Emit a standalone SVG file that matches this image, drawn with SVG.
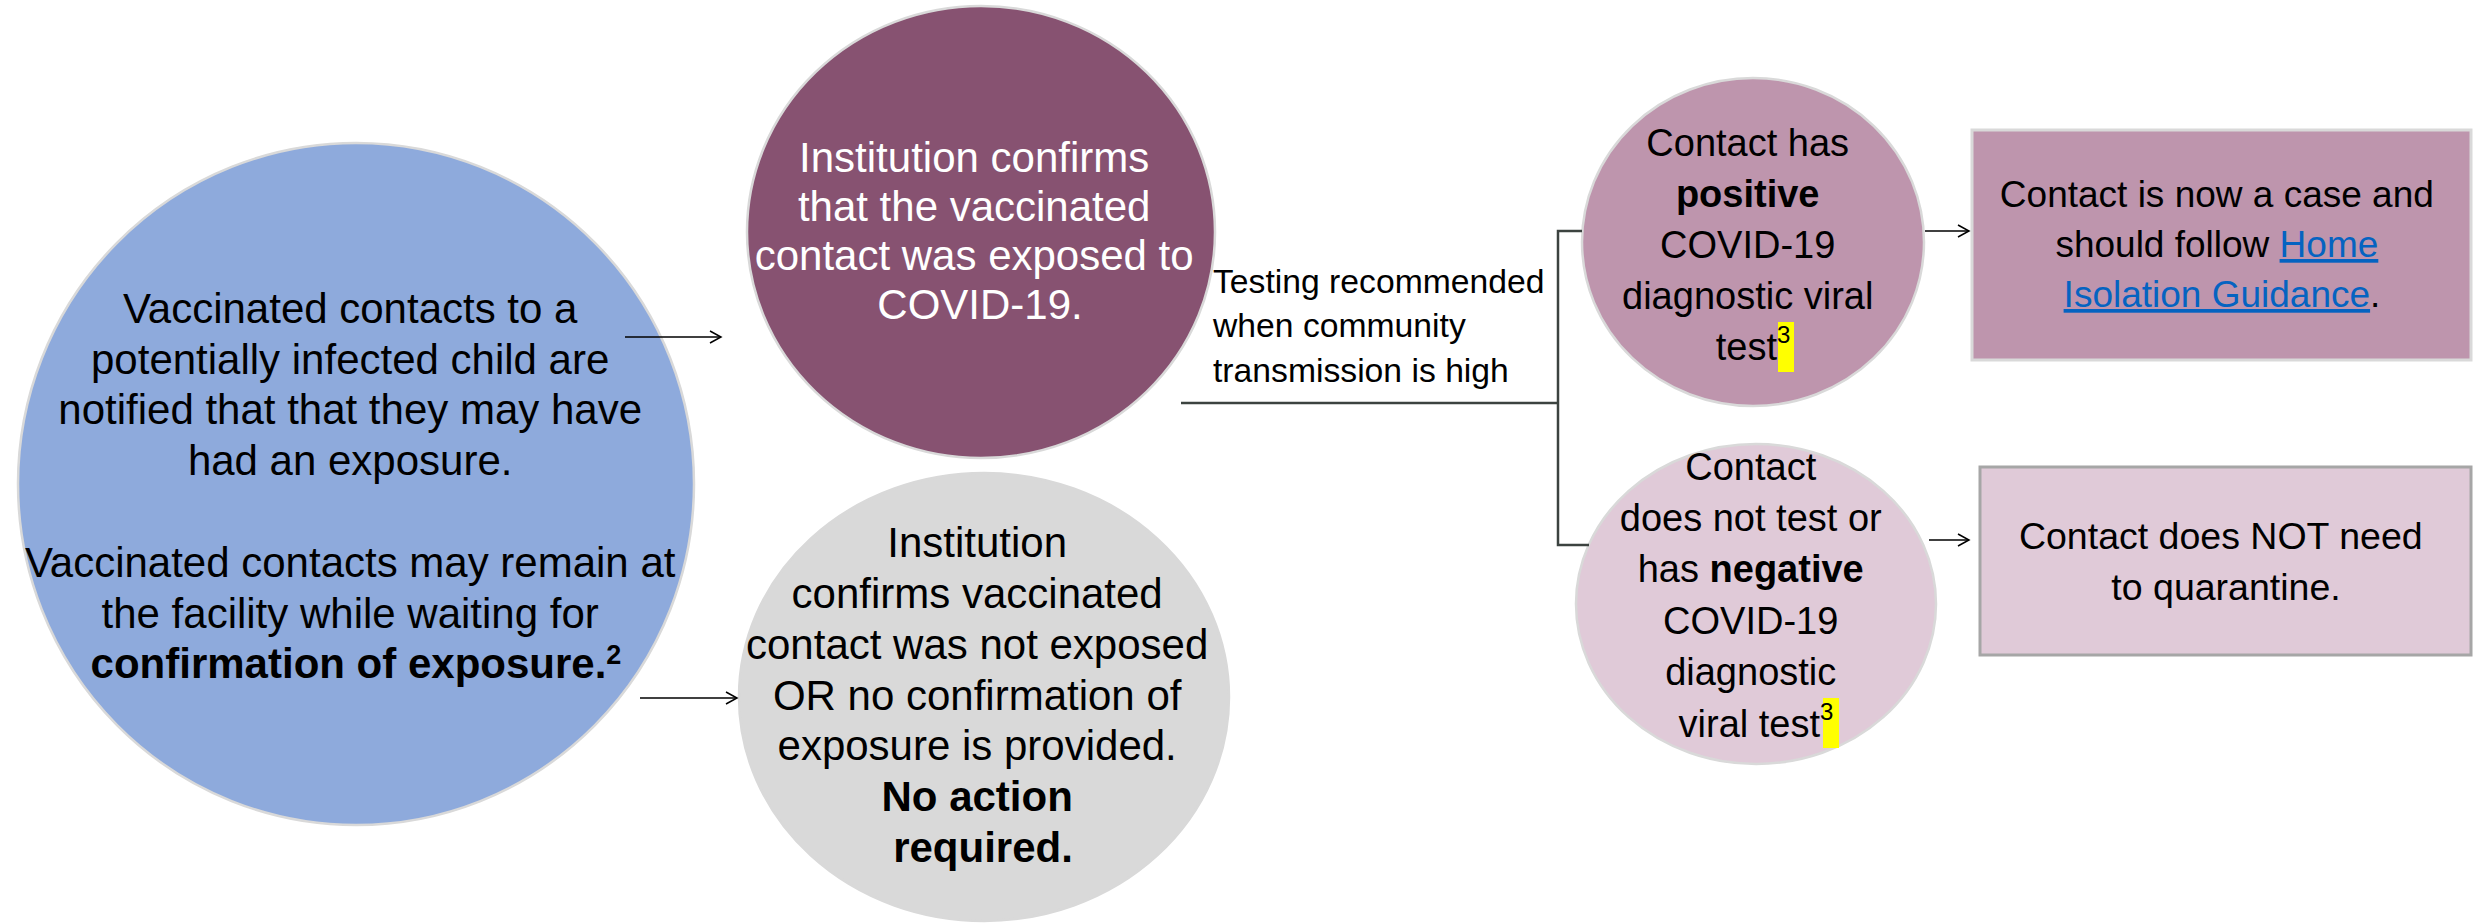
<svg xmlns="http://www.w3.org/2000/svg" width="2484" height="923" viewBox="0 0 2484 923">
<style>
text { font-family: "Liberation Sans", Arial, sans-serif; fill: #000; text-anchor: middle; }
.w { fill: #fff; }
.b { font-weight: bold; }
.node { stroke: #d9d9d9; stroke-width: 2.5; }
.arrow { stroke: #000; stroke-width: 1.5; fill: none; }
.brk { stroke: #3c4340; stroke-width: 2.5; fill: none; }
.link { fill: #0563C1; text-decoration: underline; }
.hl { fill: #ffff00; }
</style>
<defs>
<marker id="ah" markerUnits="userSpaceOnUse" markerWidth="14" markerHeight="16" refX="12" refY="7" orient="auto">
<path d="M1,1 L12,7 L1,13" fill="none" stroke="#000" stroke-width="1.5"/>
</marker>
</defs>
<rect width="2484" height="923" fill="#fff"/>

<g id="node-start">
<ellipse class="node" cx="356" cy="484" rx="338" ry="341" fill="#8eaadc"/>
<text font-size="42">
<tspan x="356" y="323">Vaccinated contacts to a</tspan>
<tspan x="356" y="374">potentially infected child are</tspan>
<tspan x="356" y="424">notified that that they may have</tspan>
<tspan x="356" y="475">had an exposure.</tspan>
<tspan x="356" y="577">Vaccinated contacts may remain at</tspan>
<tspan x="356" y="628">the facility while waiting for</tspan>
<tspan x="356" y="678" class="b">confirmation of exposure.<tspan font-size="27" dy="-14">2</tspan></tspan>
</text>
</g>

<g id="node-exposed">
<ellipse class="node" cx="981" cy="232" rx="234" ry="226" fill="#875271"/>
<text font-size="42" class="w">
<tspan class="w" x="980" y="172">Institution confirms</tspan>
<tspan class="w" x="980" y="221">that the vaccinated</tspan>
<tspan class="w" x="980" y="270">contact was exposed to</tspan>
<tspan class="w" x="980" y="319">COVID-19.</tspan>
</text>
</g>

<g id="node-not-exposed">
<ellipse class="node" cx="984" cy="697" rx="245" ry="224" fill="#d9d9d9"/>
<text font-size="42">
<tspan x="983" y="557">Institution</tspan>
<tspan x="983" y="608">confirms vaccinated</tspan>
<tspan x="983" y="659">contact was not exposed</tspan>
<tspan x="983" y="710">OR no confirmation of</tspan>
<tspan x="983" y="760">exposure is provided.</tspan>
<tspan x="983" y="811" class="b">No action</tspan>
<tspan x="983" y="862" class="b">required.</tspan>
</text>
</g>

<g id="label-testing">
<text font-size="33.7" style="text-anchor:start">
<tspan x="1213" y="293">Testing recommended</tspan>
<tspan x="1213" y="337">when community</tspan>
<tspan x="1213" y="382">transmission is high</tspan>
</text>
</g>

<g id="node-positive">
<ellipse class="node" cx="1753" cy="242" rx="171" ry="164" fill="#be95ad"/>
<rect class="hl" x="1778" y="322" width="16" height="50"/>
<text font-size="38">
<tspan x="1753" y="156">Contact has</tspan>
<tspan x="1753" y="207" class="b">positive</tspan>
<tspan x="1753" y="258">COVID-19</tspan>
<tspan x="1753" y="309">diagnostic viral</tspan>
<tspan x="1753" y="360">test<tspan font-size="24" dy="-17">3</tspan></tspan>
</text>
</g>

<g id="node-negative">
<ellipse class="node" cx="1756" cy="604" rx="180" ry="160" fill="#e0cad8"/>
<rect class="hl" x="1823" y="698" width="16" height="50"/>
<text font-size="38">
<tspan x="1756" y="480">Contact</tspan>
<tspan x="1756" y="531">does not test or</tspan>
<tspan x="1756" y="582">has <tspan class="b">negative</tspan></tspan>
<tspan x="1756" y="634">COVID-19</tspan>
<tspan x="1756" y="685">diagnostic</tspan>
<tspan x="1756" y="737">viral test<tspan font-size="24" dy="-17">3</tspan></tspan>
</text>
</g>

<g id="node-case">
<rect x="1972" y="130" width="499" height="230" fill="#be95ad" stroke="#d9d9d9" stroke-width="3"/>
<text font-size="37">
<tspan x="2222" y="207">Contact is now a case and</tspan>
<tspan x="2222" y="257">should follow <tspan class="link">Home</tspan></tspan>
<tspan x="2222" y="307"><tspan class="link">Isolation Guidance</tspan>.</tspan>
</text>
</g>

<g id="node-no-quarantine">
<rect x="1980" y="467" width="491" height="188" fill="#e0cad8" stroke="#a6a6a6" stroke-width="3"/>
<text font-size="37.5">
<tspan x="2226" y="549">Contact does NOT need</tspan>
<tspan x="2226" y="600">to quarantine.</tspan>
</text>
</g>

<g id="connectors">
<line class="arrow" x1="625" y1="337" x2="721" y2="337" marker-end="url(#ah)"/>
<line class="arrow" x1="640" y1="698" x2="737" y2="698" marker-end="url(#ah)"/>
<line class="brk" x1="1181" y1="403" x2="1558" y2="403"/>
<path class="brk" d="M1582,231 L1558,231 L1558,545 L1589,545"/>
<line class="arrow" x1="1925" y1="231" x2="1969" y2="231" marker-end="url(#ah)"/>
<line class="arrow" x1="1929" y1="540" x2="1969" y2="540" marker-end="url(#ah)"/>
</g>
</svg>
